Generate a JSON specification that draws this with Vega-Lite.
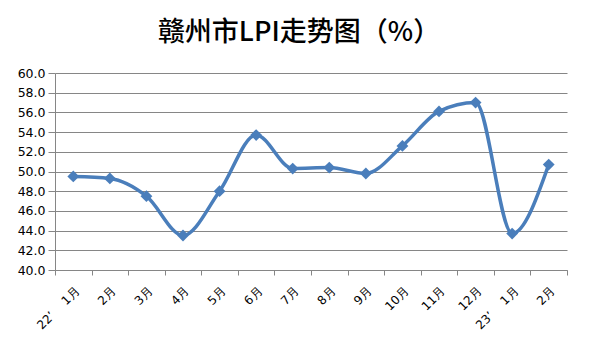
{
  "$schema": "https://vega.github.io/schema/vega-lite/v6.json",
  "width": 512,
  "height": 197,
  "autosize": {"type": "none"},
  "padding": {"left": 55, "top": 73, "right": 23, "bottom": 85},
  "background": "white",
  "title": {
    "text": "赣州市LPI走势图（%）",
    "font": "Noto Sans CJK SC",
    "fontSize": 27,
    "fontWeight": 500,
    "color": "#000000",
    "anchor": "middle",
    "dx": -12,
    "offset": 20
  },
  "data": {
    "values": [
      {"month": "22’\u00a0\u00a0\u00a0\u00a01月", "lpi": 49.5},
      {"month": "2月", "lpi": 49.3},
      {"month": "3月", "lpi": 47.5},
      {"month": "4月", "lpi": 43.5},
      {"month": "5月", "lpi": 48.0},
      {"month": "6月", "lpi": 53.7},
      {"month": "7月", "lpi": 50.3},
      {"month": "8月", "lpi": 50.4},
      {"month": "9月", "lpi": 49.8},
      {"month": "10月", "lpi": 52.6},
      {"month": "11月", "lpi": 56.1},
      {"month": "12月", "lpi": 57.0},
      {"month": "23’\u00a0\u00a0\u00a0\u00a01月", "lpi": 43.7},
      {"month": "2月\u00a0", "lpi": 50.7}
    ]
  },
  "encoding": {
    "x": {
      "field": "month",
      "type": "nominal",
      "sort": null,
      "scale": {"paddingInner": 0, "paddingOuter": 0},
      "axis": {
        "title": null,
        "labelAngle": -45,
        "labelFont": "DejaVu Sans",
        "labelFontSize": 12,
        "labelColor": "#000000",
        "domainColor": "#868686",
        "tickColor": "#868686",
        "tickBand": "extent",
        "tickSize": 5,
        "labelPadding": 10,
        "labelOverlap": false,
        "grid": false
      }
    },
    "y": {
      "field": "lpi",
      "type": "quantitative",
      "scale": {"domain": [40, 60], "nice": false, "zero": false},
      "axis": {
        "title": null,
        "values": [40, 42, 44, 46, 48, 50, 52, 54, 56, 58, 60],
        "format": ".1f",
        "labelFont": "DejaVu Sans",
        "labelFontSize": 12.5,
        "labelColor": "#000000",
        "domainColor": "#868686",
        "tickColor": "#868686",
        "tickSize": 7,
        "labelPadding": 3,
        "gridColor": "#868686",
        "gridWidth": 1
      }
    }
  },
  "layer": [
    {
      "mark": {"type": "line", "interpolate": "monotone", "color": "#4A7EBB", "strokeWidth": 3.5}
    },
    {
      "mark": {"type": "point", "shape": "diamond", "filled": true, "size": 140, "color": "#4A7EBB", "opacity": 1}
    }
  ],
  "config": {
    "view": {"stroke": null}
  }
}
